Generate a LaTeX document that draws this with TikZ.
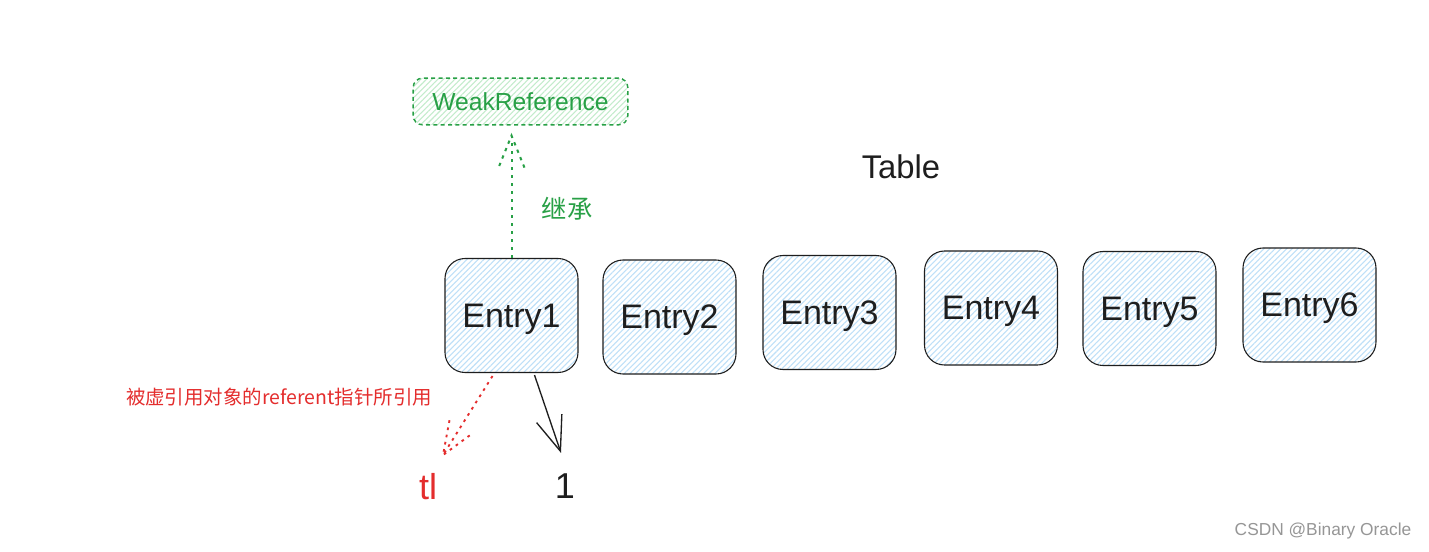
\documentclass[tikz,border=0pt]{standalone}
\usepackage{fontspec}
\setmainfont{Liberation Sans}
\newfontfamily\cjk{Noto Sans CJK SC}
\usetikzlibrary{patterns.meta,calc,arrows.meta}
\definecolor{hatchblue}{RGB}{190,224,248}
\definecolor{hatchgreen}{RGB}{195,236,204}
\definecolor{dgreen}{RGB}{40,160,70}
\definecolor{dred}{RGB}{228,45,45}
\definecolor{ink}{RGB}{30,30,30}
\definecolor{wmgray}{RGB}{150,150,150}
\begin{document}
\begin{tikzpicture}[x=0.75pt,y=-0.75pt,
  entry/.style={draw=ink, line width=0.8pt, rounded corners=15pt,
    minimum width=99.75pt, minimum height=85.5pt, inner sep=0pt, text depth=0pt,
    pattern={Lines[angle=45,distance=3pt,line width=0.8pt]}, pattern color=hatchblue,
    font=\fontsize{25.5}{30}\selectfont, text=ink},
  weak/.style={draw=dgreen, line width=1.1pt, dash pattern=on 3pt off 2.5pt,
    rounded corners=7pt, minimum width=161pt, minimum height=35pt, inner sep=0pt,
    pattern={Lines[angle=45,distance=3pt,line width=0.8pt]}, pattern color=hatchgreen,
    font=\fontsize{18.5}{22}\selectfont, text=dgreen},
  gline/.style={draw=dgreen, line width=1.5pt, dash pattern=on 2.5pt off 3.5pt},
  rline/.style={draw=dred, line width=1.4pt, dash pattern=on 2pt off 3.5pt},
  bline/.style={draw=ink, line width=1pt, line join=miter},
  big/.style={font=\fontsize{27}{30}\selectfont}
]
\fill[white] (0,0) rectangle (1429,551);
\useasboundingbox (0,0) rectangle (1429,551);

\node[entry] (e1) at (511.5,315.5) {Entry1};
\node[entry] (e2) at (669.5,317) {Entry2};
\node[entry] (e3) at (829.5,312.5) {Entry3};
\node[entry] (e4) at (991,308) {Entry4};
\node[entry] (e5) at (1149.5,308.5) {Entry5};
\node[entry] (e6) at (1309.5,305) {Entry6};

\node[weak] (wr) at (520.5,101.5) {WeakReference};

\node[font=\fontsize{24.6}{28}\selectfont, text=ink] (tbl) at (901,167) {Table};
\node[text=dgreen, font=\cjk\fontsize{19}{22}\selectfont] (jc) at (567,209) {继承};
\node[text=dred, font=\cjk\fontsize{14.6}{17}\selectfont] (lbl) at (279,397) {被虚引用对象的referent指针所引用};
\node[big, text=dred] (tl) at (428,487) {tl};
\node[big, text=ink] (one) at (565,486) {1};
\node[text=wmgray, font=\fontsize{13}{15}\selectfont] (wm) at (1323,531) {CSDN @Binary Oracle};

% green inheritance arrow
\coordinate (ga) at ($(e1.north |- wr.south)+(0,10)$);
\draw[gline] (e1.north) -- (ga);
\draw[gline] ($(ga)!25.9pt!22:(e1.north)$) -- (ga) -- ($(ga)!25.9pt!-22:(e1.north)$);

% red dotted arrow
\coordinate (rs) at ($(e1.south)+(-19,3)$);
\coordinate (ra) at ($(tl.north)+(15,-14)$);
\draw[rline] (rs) -- (ra);
\draw[rline] ($(ra)!26.6pt!21.5:(rs)$) -- (ra) -- ($(ra)!26.6pt!-21.5:(rs)$);

% black arrow
\coordinate (bs) at ($(e1.south)+(23,2)$);
\coordinate (ba) at ($(one.north)+(-4,-16)$);
\draw[bline, -{Straight Barb[length=26pt,width=20pt]}] (bs) -- (ba);
\end{tikzpicture}
\end{document}
